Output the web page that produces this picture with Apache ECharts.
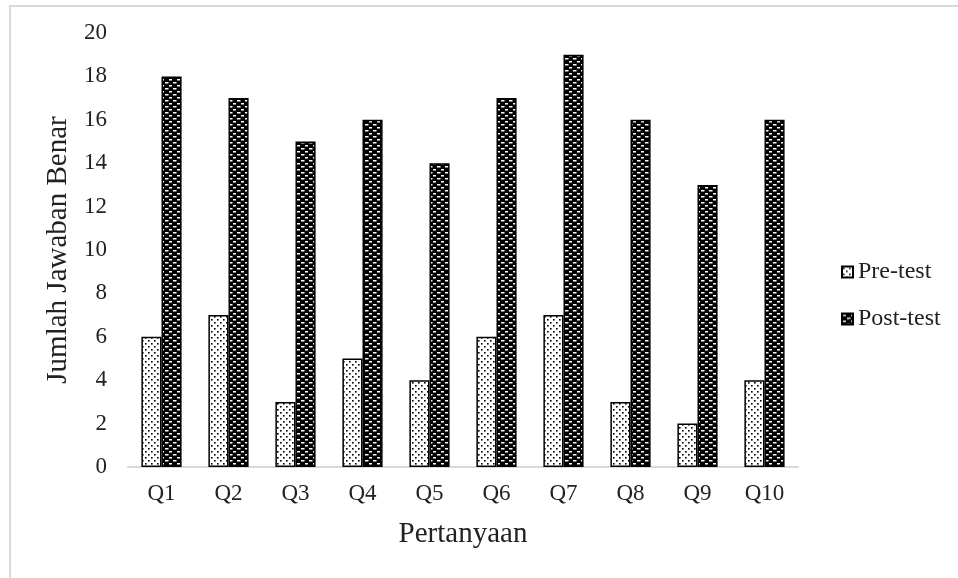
<!DOCTYPE html>
<html><head><meta charset="utf-8">
<script src="https://cdn.jsdelivr.net/npm/echarts@6/dist/echarts.min.js"></script>
<style>html,body{margin:0;padding:0;background:#fff}#c{width:958px;height:578px}</style>
</head><body><div id="c"></div>
<script>
const categories = ['Q1','Q2','Q3','Q4','Q5','Q6','Q7','Q8','Q9','Q10'];
const preTest = [6,7,3,5,4,6,7,3,2,4];
const postTest = [18,17,15,16,14,17,19,16,13,16];
const yTicks = {min:0, max:20, interval:2};

function dotPattern(){
  const c=document.createElement('canvas'); c.width=6; c.height=6;
  const g=c.getContext('2d'); g.fillStyle='#fff'; g.fillRect(0,0,6,6);
  g.fillStyle='#000'; g.fillRect(1,1,1.6,1.6); g.fillRect(4,4,1.6,1.6);
  return c;
}
function checkPattern(){
  const c=document.createElement('canvas'); c.width=8; c.height=6;
  const g=c.getContext('2d'); g.fillStyle='#000'; g.fillRect(0,0,8,6);
  g.fillStyle='#fff'; g.fillRect(1,1,3,1.5); g.fillRect(5,4,3,1.5); g.fillRect(0,4,0.5,1.5);
  return c;
}
const font='"Liberation Serif","DejaVu Serif",serif';
const chart=echarts.init(document.getElementById('c'));
chart.setOption({
  animation:false,
  backgroundColor:'#fff',
  graphic:[{type:'rect',shape:{x:10,y:6,width:1000,height:1000},style:{fill:'none',stroke:'#d9d9d9',lineWidth:2},silent:true}],
  legend:{orient:'vertical',left:841,top:260,padding:0,itemGap:23,itemWidth:11,itemHeight:11,
    textStyle:{fontFamily:font,fontSize:24,color:'#222'},
    data:[{name:'Pre-test',icon:'rect'},{name:'Post-test',icon:'rect'}]},
  grid:{left:128,right:160,top:33,bottom:111},
  xAxis:{type:'category',data:categories,
    axisLine:{lineStyle:{color:'#d9d9d9',width:2}},axisTick:{show:false},
    axisLabel:{fontFamily:font,fontSize:23,color:'#222',margin:15},
    name:'Pertanyaan',nameLocation:'middle',nameGap:53,
    nameTextStyle:{fontFamily:font,fontSize:29,color:'#222'}},
  yAxis:{type:'value',min:yTicks.min,max:yTicks.max,interval:yTicks.interval,
    splitLine:{show:false},axisLine:{show:false},axisTick:{show:false},
    axisLabel:{fontFamily:font,fontSize:23,color:'#222',margin:21},
    name:'Jumlah Jawaban Benar',nameLocation:'middle',nameGap:55,
    nameTextStyle:{fontFamily:font,fontSize:29,color:'#222'}},
  series:[
    {name:'Pre-test',type:'bar',data:preTest,barGap:'0%',barCategoryGap:'40%',
      itemStyle:{color:{image:dotPattern(),repeat:'repeat'},borderColor:'#000',borderWidth:1.5}},
    {name:'Post-test',type:'bar',data:postTest,
      itemStyle:{color:{image:checkPattern(),repeat:'repeat'},borderColor:'#000',borderWidth:1.5}}
  ]
});
</script></body></html>
